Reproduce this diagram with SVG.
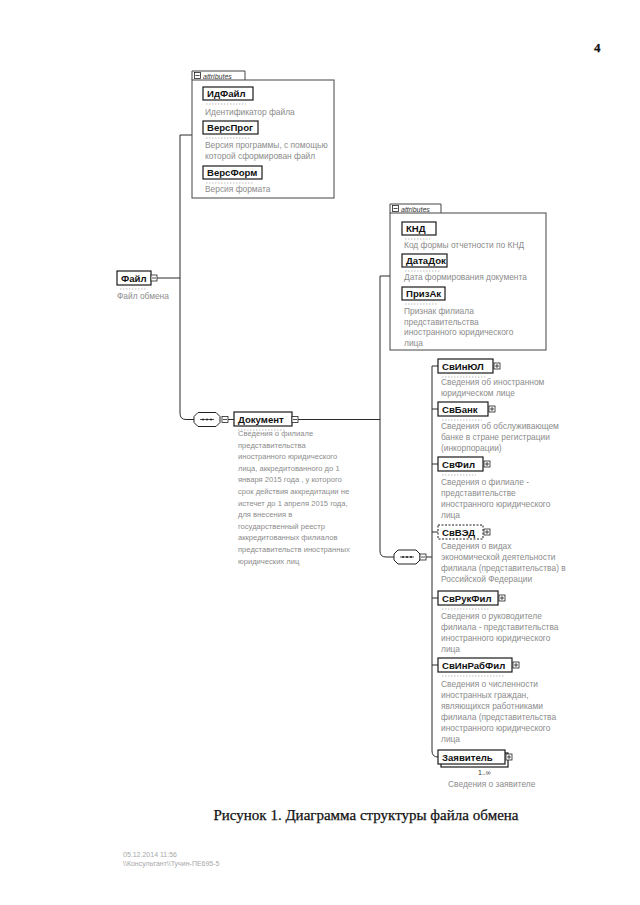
<svg xmlns="http://www.w3.org/2000/svg" width="640" height="905" viewBox="0 0 640 905">
<style>
.bg{fill:#ffffff}
.box{fill:#ffffff;stroke:#1a1a1a;stroke-width:1.2}
.dbox{fill:#ffffff;stroke:#1a1a1a;stroke-width:1;stroke-dasharray:2,1.5}
.frame{fill:#ffffff;stroke:#444;stroke-width:1}
.conn{fill:none;stroke:#2a2a2a;stroke-width:1}
.lbl{font-family:"Liberation Sans",Arial,sans-serif;font-weight:bold;font-size:9.6px;fill:#111}
.desc{font-family:"Liberation Sans",Arial,sans-serif;font-size:8.4px;fill:#8c8c8c}
.ddesc{font-family:"Liberation Sans",Arial,sans-serif;font-size:7.6px;fill:#8c8c8c}
.tab{font-family:"Liberation Sans",Arial,sans-serif;font-style:italic;font-size:7px;fill:#333}
.stub{stroke:#aaa;stroke-width:0.8;stroke-dasharray:1.5,1.5;fill:none}
.cap{font-family:"Liberation Serif","Times New Roman",serif;font-size:15px;fill:#111;stroke:#111;stroke-width:0.25}
.foot{font-family:"Liberation Sans",Arial,sans-serif;font-size:7px;fill:#a8a8a8}
</style>
<defs>
<g id="plus"><rect x="0" y="0" width="6" height="6" fill="#fff" stroke="#222" stroke-width="0.8"/><path d="M1,3H5M3,1V5" stroke="#222" stroke-width="0.8"/></g>
<g id="minus"><rect x="0" y="0" width="6" height="6" fill="#fff" stroke="#222" stroke-width="0.8"/><path d="M1,3H5" stroke="#222" stroke-width="0.8"/></g>
<g id="seq"><path d="M4,0H22L26,4V10L22,14H4L0,10V4Z" fill="#fff" stroke="#222" stroke-width="1"/><path d="M6,7H20" stroke="#222" stroke-width="0.8"/><circle cx="9" cy="7" r="1" fill="#222"/><circle cx="13" cy="7" r="1" fill="#222"/><circle cx="17" cy="7" r="1" fill="#222"/></g>
</defs>
<rect class="bg" x="0" y="0" width="640" height="905"/>
<text x="594" y="52" class="cap" style="font-size:13px;font-weight:bold">4</text>

<g id="connectors">
<path class="conn" d="M157,278H180"/>
<path class="conn" d="M192,135H180V413Q180,419.5 186,419.5H194"/>
<path class="conn" d="M228,419.5H234"/>
<path class="conn" d="M298,419.5H380"/>
<path class="conn" d="M390,276H380V551Q380,557 386,557H394"/>
<path class="conn" d="M426,557H432"/>
<path class="conn" d="M438,366H432V751Q432,757 438,757H438"/>
<path class="conn" d="M432,409H438M432,464H438M432,532H438M432,598H438M432,665H438"/>
</g>

<g id="attributes1">
<path class="frame" d="M192,80V71H245V80"/>
<use href="#minus" x="194.5" y="72.5"/>
<text x="203" y="78.5" class="tab">attributes</text>
<rect class="frame" x="192" y="80" width="142" height="118"/>
<g id="ИдФайл"><rect class="box" x="203" y="87" width="50" height="13"/><text x="207" y="97.2" class="lbl">ИдФайл</text><path class="stub" d="M206,104H246"/><text x="205" y="115" class="desc">Идентификатор файла</text></g>
<g id="ВерсПрог"><rect class="box" x="203" y="121" width="55" height="13"/><text x="207" y="131.2" class="lbl">ВерсПрог</text><path class="stub" d="M206,138H250"/><text x="205" y="148" class="desc">Версия программы, с помощью</text><text x="205" y="159" class="desc">которой сформирован файл</text></g>
<g id="ВерсФорм"><rect class="box" x="203" y="166" width="59" height="13"/><text x="207" y="176.2" class="lbl">ВерсФорм</text><path class="stub" d="M206,183H254"/><text x="205" y="192" class="desc">Версия формата</text></g>
</g>

<g id="Файл">
<rect class="box" x="117" y="271" width="34" height="14"/>
<text x="121" y="281.5" class="lbl">Файл</text>
<use href="#minus" x="151" y="275"/>
<path class="stub" d="M120,289H146"/>
<text x="117" y="299" class="desc">Файл обмена</text>
</g>

<g id="sequence1">
<use href="#seq" x="194" y="412.5"/>
<use href="#minus" x="222" y="416.5"/>
</g>

<g id="Документ">
<rect class="box" x="234" y="412" width="58" height="14"/>
<text x="238" y="422.5" class="lbl">Документ</text>
<use href="#minus" x="292" y="416.5"/>
<path class="stub" d="M238,430H286"/>
<text class="ddesc" x="238">
<tspan x="238" y="436">Сведения о филиале</tspan>
<tspan x="238" y="447.6">представительства</tspan>
<tspan x="238" y="459.2">иностранного юридического</tspan>
<tspan x="238" y="470.8">лица, аккредитованного до 1</tspan>
<tspan x="238" y="482.4">января 2015 года , у которого</tspan>
<tspan x="238" y="494">срок действия аккредитации не</tspan>
<tspan x="238" y="505.6">истечет до 1 апреля 2015 года,</tspan>
<tspan x="238" y="517.2">для внесения в</tspan>
<tspan x="238" y="528.8">государственный реестр</tspan>
<tspan x="238" y="540.4">аккредитованных филиалов</tspan>
<tspan x="238" y="552">представительств иностранных</tspan>
<tspan x="238" y="563.6">юридических лиц</tspan>
</text>
</g>

<g id="attributes2">
<path class="frame" d="M390,213V204H441V213"/>
<use href="#minus" x="392.5" y="205.5"/>
<text x="401" y="211.5" class="tab">attributes</text>
<rect class="frame" x="390" y="213" width="156" height="137"/>
<g id="КНД"><rect class="box" x="402" y="222" width="34" height="13"/><text x="406" y="232.2" class="lbl">КНД</text><path class="stub" d="M405,239H430"/><text x="404" y="248" class="desc">Код формы отчетности по КНД</text></g>
<g id="ДатаДок"><rect class="box" x="402" y="254" width="45" height="13"/><text x="406" y="264.2" class="lbl">ДатаДок</text><path class="stub" d="M405,271H440"/><text x="404" y="280" class="desc">Дата формирования документа</text></g>
<g id="ПризАк"><rect class="box" x="402" y="287" width="43" height="13"/><text x="406" y="297.2" class="lbl">ПризАк</text><path class="stub" d="M405,304H438"/>
<text x="404" y="314" class="desc">Признак филиала</text><text x="404" y="324.5" class="desc">представительства</text><text x="404" y="335" class="desc">иностранного юридического</text><text x="404" y="345.5" class="desc">лица</text></g>
</g>

<g id="sequence2">
<use href="#seq" x="394" y="550"/>
<use href="#minus" x="420" y="554"/>
</g>

<g id="СвИнЮЛ">
<rect class="box" x="438" y="359" width="55" height="14"/>
<text x="442" y="369.5" class="lbl">СвИнЮЛ</text>
<use href="#plus" x="494" y="363"/>
<path class="stub" d="M442,377H486"/>
<text x="441" y="385" class="desc">Сведения об иностранном</text>
<text x="441" y="396" class="desc">юридическом лице</text>
</g>

<g id="СвБанк">
<rect class="box" x="438" y="402" width="50" height="14"/>
<text x="442" y="412.5" class="lbl">СвБанк</text>
<use href="#plus" x="489" y="406"/>
<path class="stub" d="M442,420H482"/>
<text x="441" y="429" class="desc">Сведения об обслуживающем</text>
<text x="441" y="440" class="desc">банке в стране регистрации</text>
<text x="441" y="451" class="desc">(инкорпорации)</text>
</g>

<g id="СвФил">
<rect class="box" x="438" y="457" width="45" height="14"/>
<text x="442" y="467.5" class="lbl">СвФил</text>
<use href="#plus" x="484" y="461"/>
<path class="stub" d="M442,475H476"/>
<text x="441" y="485" class="desc">Сведения о филиале -</text>
<text x="441" y="496" class="desc">представительстве</text>
<text x="441" y="507" class="desc">иностранного юридического</text>
<text x="441" y="518" class="desc">лица</text>
</g>

<g id="СвВЭД">
<rect class="dbox" x="438" y="525" width="45" height="14"/>
<text x="442" y="535.5" class="lbl">СвВЭД</text>
<use href="#plus" x="484" y="529"/>
<text x="441" y="549" class="desc">Сведения о видах</text>
<text x="441" y="560" class="desc">экономической деятельности</text>
<text x="441" y="571" class="desc">филиала (представительства) в</text>
<text x="441" y="582" class="desc">Российской Федерации</text>
</g>

<g id="СвРукФил">
<rect class="box" x="438" y="591" width="60" height="14"/>
<text x="442" y="601.5" class="lbl">СвРукФил</text>
<use href="#plus" x="499" y="595"/>
<path class="stub" d="M442,609H490"/>
<text x="441" y="619" class="desc">Сведения о руководителе</text>
<text x="441" y="630" class="desc">филиала - представительства</text>
<text x="441" y="641" class="desc">иностранного юридического</text>
<text x="441" y="652" class="desc">лица</text>
</g>

<g id="СвИнРабФил">
<rect class="box" x="438" y="658" width="74" height="14"/>
<text x="442" y="668.5" class="lbl">СвИнРабФил</text>
<use href="#plus" x="513" y="662"/>
<path class="stub" d="M442,676H504"/>
<text x="441" y="687" class="desc">Сведения о численности</text>
<text x="441" y="698" class="desc">иностранных граждан,</text>
<text x="441" y="709" class="desc">являющихся работниками</text>
<text x="441" y="720" class="desc">филиала (представительства</text>
<text x="441" y="731" class="desc">иностранного юридического</text>
<text x="441" y="742" class="desc">лица</text>
</g>

<g id="Заявитель">
<rect class="box" x="441" y="753" width="67" height="14"/>
<rect class="box" x="438" y="750" width="67" height="14"/>
<text x="442" y="760.5" class="lbl">Заявитель</text>
<use href="#plus" x="506" y="754"/>
<text x="478" y="775" class="desc" style="fill:#333;font-size:7px">1..∞</text>
<text x="448" y="787" class="desc">Сведения о заявителе</text>
</g>

<text x="366" y="820" text-anchor="middle" class="cap">Рисунок 1. Диаграмма структуры файла обмена</text>
<text x="123" y="857" class="foot">05.12.2014 11:56</text>
<text x="123" y="866" class="foot">\\Консультант\\Тучин-ПЕ695-5</text>
</svg>
